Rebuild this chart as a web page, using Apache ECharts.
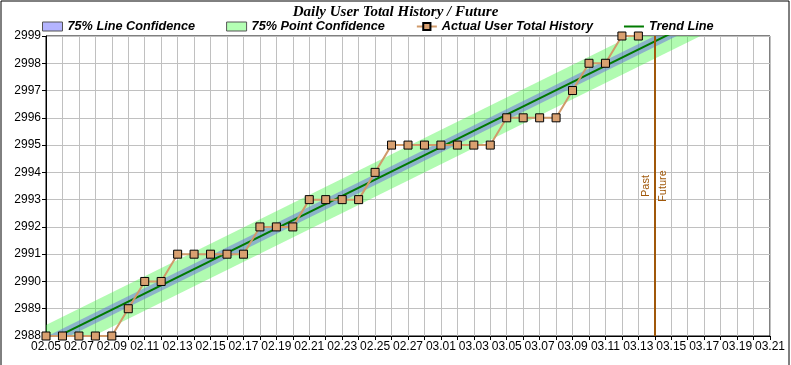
<!DOCTYPE html>
<html>
<head>
<meta charset="utf-8">
<script src="https://cdn.jsdelivr.net/npm/echarts@6/dist/echarts.min.js"></script>
<style>
html,body{margin:0;padding:0;background:#fff;}
#chart{width:791px;height:365px;}
</style>
</head>
<body>
<div id="chart"></div>
<script>
// Axis categories (daily)
var dates = ['02.05','02.06','02.07','02.08','02.09','02.10','02.11','02.12','02.13','02.14','02.15','02.16','02.17','02.18','02.19','02.20','02.21','02.22','02.23','02.24','02.25','02.26','02.27','02.28','03.01','03.02','03.03','03.04','03.05','03.06','03.07','03.08','03.09','03.10','03.11','03.12','03.13','03.14','03.15','03.16','03.17','03.18','03.19','03.20','03.21'];
// Actual history values (02.05 .. 03.13)
var actualValues = [2988,2988,2988,2988,2988,2989,2990,2990,2991,2991,2991,2991,2991,2992,2992,2992,2993,2993,2993,2993,2994,2995,2995,2995,2995,2995,2995,2995,2996,2996,2996,2996,2997,2998,2998,2999,2999];
// Trend line and confidence bands: endpoints
var trendDates = ['02.05','03.21'];
var trendValues = [2987.77, 3000.89];
var lineConfLower = [2987.57, 3000.69];
var lineConfUpper = [2987.97, 3001.09];
var pointConfLower = [2987.14, 3000.26];
var pointConfUpper = [2988.40, 3001.52];
var splitDate = '03.14';
var yTicks = [2988, 2999];

function pairs(xs, ys){ return xs.map(function(x,i){ return [x, ys[i]]; }); }
function diffPairs(xs, up, lo){ return xs.map(function(x,i){ return [x, +(up[i]-lo[i]).toFixed(4)]; }); }

var chart = echarts.init(document.getElementById('chart'), null, {renderer:'canvas'});
var legendFont = {fontFamily:'Liberation Sans, Arial, sans-serif', fontSize:12.7, fontWeight:'bold', fontStyle:'italic', color:'#000'};
chart.setOption({
  backgroundColor:'#fff',
  animation:false,
  title:{
    text:'Daily User Total History / Future',
    left:'center', top:0,
    textStyle:{fontFamily:'Liberation Serif, Times New Roman, serif', fontSize:15, fontWeight:'bold', fontStyle:'italic', color:'#000'}
  },
  legend:{
    left:37, top:15, itemGap:31, itemWidth:20, itemHeight:9,
    textStyle:legendFont,
    data:[
      {name:'75% Line Confidence', icon:'rect', itemStyle:{color:'#b4b4ff', borderColor:'#555', borderWidth:1}},
      {name:'75% Point Confidence', icon:'rect', itemStyle:{color:'#b4ffb4', borderColor:'#555', borderWidth:1}},
      {name:'Actual User Total History'},
      {name:'Trend Line', icon:'path://M0,0L20,0L20,2L0,2Z', itemStyle:{color:'#007a00', borderWidth:0}}
    ]
  },
  grid:{left:46, right:21, top:36, bottom:29, show:true, borderColor:'#000', borderWidth:1},
  xAxis:{
    type:'category', data:dates, boundaryGap:false,
    axisLine:{lineStyle:{color:'#000', width:1}},
    axisTick:{interval:0, length:4, lineStyle:{color:'#000'}},
    axisLabel:{interval:1, margin:5, color:'#000', fontFamily:'Liberation Sans, Arial, sans-serif', fontSize:12},
    splitLine:{show:true, interval:0, lineStyle:{color:'#c0c0c0', width:1}}
  },
  yAxis:{
    type:'value', min:yTicks[0], max:yTicks[1], interval:1,
    axisLine:{show:true, lineStyle:{color:'#000', width:1}},
    axisTick:{show:true, length:4, lineStyle:{color:'#000'}},
    axisLabel:{margin:5, color:'#000', fontFamily:'Liberation Sans, Arial, sans-serif', fontSize:12, formatter:function(v){ return String(v); }},
    splitLine:{show:true, lineStyle:{color:'#c0c0c0', width:1}}
  },
  graphic:[{type:'rect', shape:{x:1, y:1, width:788, height:370}, style:{fill:'none', stroke:'#000', lineWidth:1}, silent:true}],
  series:[
    {name:'pcBase', type:'line', stack:'pc', data:pairs(trendDates, pointConfLower), symbol:'none', lineStyle:{width:0, opacity:0}, silent:true},
    {name:'75% Point Confidence', type:'line', stack:'pc', data:diffPairs(trendDates, pointConfUpper, pointConfLower), symbol:'none',
      itemStyle:{color:'#b4ffb4'}, lineStyle:{width:0, opacity:0}, areaStyle:{color:'rgba(60,245,60,0.40)', opacity:1}},
    {name:'lcBase', type:'line', stack:'lc', data:pairs(trendDates, lineConfLower), symbol:'none', lineStyle:{width:0, opacity:0}, silent:true},
    {name:'75% Line Confidence', type:'line', stack:'lc', data:diffPairs(trendDates, lineConfUpper, lineConfLower), symbol:'none',
      itemStyle:{color:'#b4b4ff'}, lineStyle:{width:0, opacity:0}, areaStyle:{color:'rgba(110,120,220,0.55)', opacity:1}},
    {name:'Trend Line', type:'line', data:pairs(trendDates, trendValues), symbol:'none', itemStyle:{color:'#007a00'}, lineStyle:{color:'#007a00', width:2}, z:4},
    {name:'Actual User Total History', type:'line', data:pairs(dates.slice(0, actualValues.length), actualValues),
      symbol:'rect', symbolSize:8, itemStyle:{color:'#d9a070', borderColor:'#000', borderWidth:1},
      lineStyle:{color:'#d09a6a', width:2}, z:5,
      markLine:{silent:true, symbol:'none', animation:false,
        lineStyle:{color:'#a0580a', width:2, type:'solid'},
        label:{color:'#a0580a', fontFamily:'Liberation Sans, Arial, sans-serif', fontSize:11},
        data:[
          {xAxis:splitDate, label:{formatter:'Past', position:'insideMiddleTop', distance:3}},
          {xAxis:splitDate, label:{formatter:'Future', position:'insideMiddleBottom', distance:3}}
        ]}
    }
  ]
});
</script>
</body>
</html>
